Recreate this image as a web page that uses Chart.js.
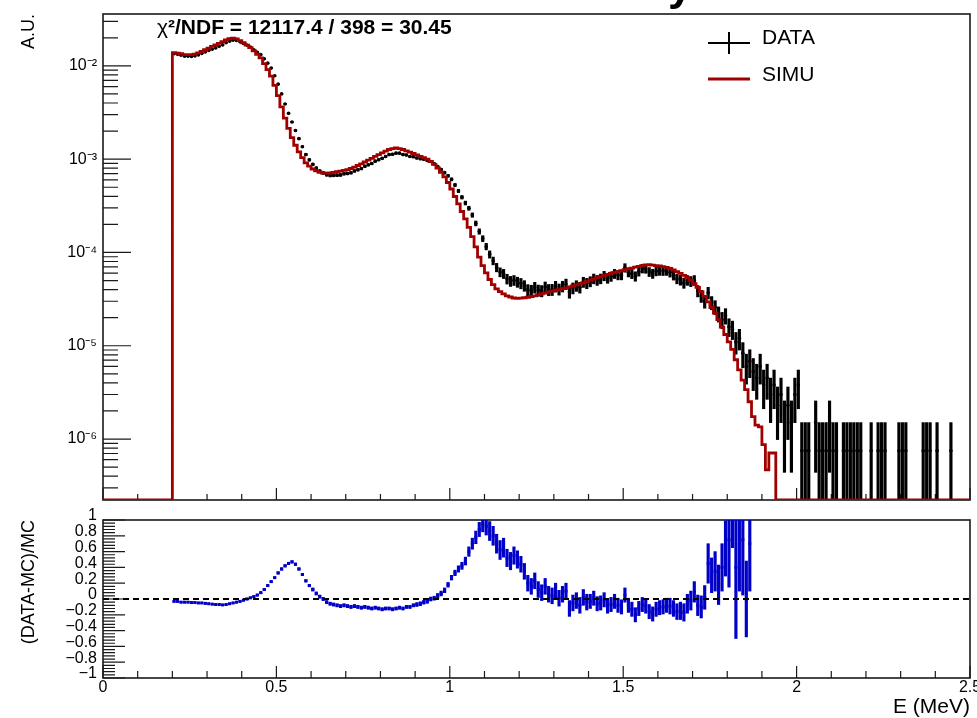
<!DOCTYPE html>
<html>
<head>
<meta charset="utf-8">
<script src="https://cdn.jsdelivr.net/npm/chart.js@4.4.1/dist/chart.umd.min.js"></script>
<style>
html, body { margin: 0; padding: 0; background: #fff; }
#wrap { position: relative; width: 977px; height: 718px; overflow: hidden; }
canvas { position: absolute; left: 0; }
#spec { top: 0; }
#ratio { top: 506px; }
</style>
</head>
<body>
<div id="wrap">
  <canvas id="spec" width="977" height="506"></canvas>
  <canvas id="ratio" width="977" height="212"></canvas>
</div>
<script>
// binning of all histograms (MeV)
const binWidth = 0.01
const firstBin = 0.20          // low edge of the first filled bin
const eventWeight = 7.5e-7     // A.U. carried by one recorded event

// DATA, A.U., one value per 0.01 MeV bin starting at 0.20 MeV
const dataValues = [
  1.35e-2, 1.33e-2, 1.30e-2, 1.27e-2, 1.27e-2, 1.26e-2, 1.28e-2, 1.31e-2, 1.36e-2, 1.41e-2,
  1.46e-2, 1.51e-2, 1.56e-2, 1.62e-2, 1.68e-2, 1.77e-2, 1.84e-2, 1.88e-2, 1.87e-2, 1.81e-2,
  1.74e-2, 1.67e-2, 1.59e-2, 1.49e-2, 1.40e-2, 1.32e-2, 1.19e-2, 1.07e-2, 9.47e-3, 7.84e-3,
  6.37e-3, 5.01e-3, 3.91e-3, 3.10e-3, 2.50e-3, 2.03e-3, 1.66e-3, 1.36e-3, 1.12e-3, 9.84e-4,
  8.79e-4, 8.03e-4, 7.46e-4, 7.11e-4, 6.80e-4, 6.68e-4, 6.71e-4, 6.74e-4, 6.78e-4, 6.98e-4,
  7.03e-4, 7.15e-4, 7.48e-4, 7.70e-4, 7.93e-4, 8.40e-4, 8.70e-4, 8.98e-4, 9.52e-4, 9.86e-4,
  1.02e-3, 1.07e-3, 1.12e-3, 1.13e-3, 1.16e-3, 1.16e-3, 1.12e-3, 1.11e-3, 1.07e-3, 1.06e-3,
  1.03e-3, 1.01e-3, 9.98e-4, 9.70e-4, 9.44e-4, 8.90e-4, 8.36e-4, 7.75e-4, 7.17e-4, 6.63e-4,
  6.08e-4, 5.29e-4, 4.57e-4, 3.91e-4, 3.39e-4, 2.98e-4, 2.52e-4, 2.05e-4, 1.68e-4, 1.41e-4,
  1.16e-4, 9.54e-5, 8.14e-5, 6.92e-5, 6.16e-5, 5.92e-5, 5.21e-5, 4.93e-5, 5.04e-5, 4.83e-5,
  4.67e-5, 4.41e-5, 3.97e-5, 3.91e-5, 4.22e-5, 3.93e-5, 3.88e-5, 4.26e-5, 3.99e-5, 4.00e-5,
  4.33e-5, 4.04e-5, 4.34e-5, 4.59e-5, 3.76e-5, 4.15e-5, 4.40e-5, 4.23e-5, 4.82e-5, 4.68e-5,
  4.89e-5, 5.24e-5, 5.05e-5, 5.24e-5, 5.62e-5, 5.30e-5, 5.54e-5, 5.92e-5, 5.74e-5, 5.74e-5,
  6.86e-5, 6.14e-5, 5.91e-5, 5.56e-5, 6.26e-5, 6.73e-5, 6.69e-5, 6.20e-5, 5.94e-5, 6.30e-5,
  6.37e-5, 6.35e-5, 6.37e-5, 6.12e-5, 5.71e-5, 5.24e-5, 5.07e-5, 4.72e-5, 5.05e-5, 4.91e-5,
  5.04e-5, 3.88e-5, 3.42e-5, 3.0e-5, 3.7e-5, 2.9e-5, 2.6e-5, 2.2e-5, 1.9e-5, 2.1e-5,
  1.6e-5, 1.5e-5, 1.1e-5, 1.2e-5, 8.3e-6, 6.0e-6, 6.8e-6, 5.3e-6, 4.5e-6, 6.0e-6,
  3.8e-6, 4.5e-6, 3.0e-6, 3.8e-6, 2.3e-6, 3.0e-6, 1.5e-6, 2.3e-6, 1.5e-6, 3.0e-6,
  3.8e-6, 7.5e-7, 7.5e-7, 7.5e-7, 0, 1.5e-6, 7.5e-7, 7.5e-7, 7.5e-7, 1.5e-6,
  7.5e-7, 7.5e-7, 0, 7.5e-7, 7.5e-7, 7.5e-7, 7.5e-7, 7.5e-7, 7.5e-7, 0,
  0, 7.5e-7, 0, 7.5e-7, 7.5e-7, 7.5e-7, 0, 0, 0, 7.5e-7,
  7.5e-7, 7.5e-7, 0, 0, 0, 0, 7.5e-7, 7.5e-7, 7.5e-7, 0,
  7.5e-7, 0, 0, 0, 7.5e-7, 0, 0, 0, 0, 0
]

// SIMU, A.U., same bins from 0.20 MeV (empty above the last value)
const simuValues = [
  1.39e-2, 1.37e-2, 1.35e-2, 1.32e-2, 1.32e-2, 1.32e-2, 1.34e-2, 1.38e-2, 1.43e-2, 1.49e-2,
  1.55e-2, 1.62e-2, 1.68e-2, 1.74e-2, 1.82e-2, 1.90e-2, 1.96e-2, 1.98e-2, 1.95e-2, 1.87e-2,
  1.77e-2, 1.67e-2, 1.57e-2, 1.45e-2, 1.33e-2, 1.22e-2, 1.06e-2, 9.12e-3, 7.76e-3, 6.17e-3,
  4.79e-3, 3.63e-3, 2.75e-3, 2.14e-3, 1.70e-3, 1.41e-3, 1.20e-3, 1.04e-3, 9.12e-4, 8.41e-4,
  7.85e-4, 7.50e-4, 7.24e-4, 7.11e-4, 7.08e-4, 7.11e-4, 7.21e-4, 7.33e-4, 7.45e-4, 7.59e-4,
  7.73e-4, 7.94e-4, 8.22e-4, 8.55e-4, 8.91e-4, 9.33e-4, 9.77e-4, 1.02e-3, 1.07e-3, 1.12e-3,
  1.17e-3, 1.22e-3, 1.27e-3, 1.30e-3, 1.32e-3, 1.30e-3, 1.27e-3, 1.23e-3, 1.19e-3, 1.15e-3,
  1.11e-3, 1.07e-3, 1.04e-3, 1.00e-3, 9.44e-4, 8.81e-4, 8.04e-4, 7.24e-4, 6.46e-4, 5.62e-4,
  4.79e-4, 3.98e-4, 3.31e-4, 2.75e-4, 2.29e-4, 1.86e-4, 1.48e-4, 1.15e-4, 8.91e-5, 7.24e-5,
  6.03e-5, 5.13e-5, 4.52e-5, 4.07e-5, 3.80e-5, 3.59e-5, 3.43e-5, 3.33e-5, 3.25e-5, 3.22e-5,
  3.24e-5, 3.27e-5, 3.31e-5, 3.37e-5, 3.43e-5, 3.51e-5, 3.59e-5, 3.67e-5, 3.76e-5, 3.85e-5,
  3.94e-5, 4.00e-5, 4.09e-5, 4.17e-5, 4.27e-5, 4.37e-5, 4.49e-5, 4.60e-5, 4.73e-5, 4.88e-5,
  5.04e-5, 5.19e-5, 5.37e-5, 5.52e-5, 5.68e-5, 5.82e-5, 5.96e-5, 6.10e-5, 6.24e-5, 6.38e-5,
  6.53e-5, 6.67e-5, 6.79e-5, 6.95e-5, 7.11e-5, 7.24e-5, 7.35e-5, 7.38e-5, 7.33e-5, 7.24e-5,
  7.16e-5, 7.05e-5, 6.92e-5, 6.73e-5, 6.49e-5, 6.24e-5, 5.96e-5, 5.69e-5, 5.37e-5, 5.01e-5,
  4.62e-5, 4.22e-5, 3.80e-5, 3.39e-5, 2.95e-5, 2.57e-5, 2.24e-5, 1.91e-5, 1.58e-5, 1.32e-5,
  1.10e-5, 9.12e-6, 7.08e-6, 5.50e-6, 4.27e-6, 3.39e-6, 2.51e-6, 1.74e-6, 1.41e-6, 1.35e-6,
  8.71e-7, 4.68e-7, 7.08e-7, 7.08e-7
]

// (DATA-MC)/MC and its error, bins from 0.20 MeV
const ratioValues = [
  -0.03, -0.03, -0.04, -0.04, -0.04, -0.045, -0.045, -0.05, -0.05, -0.055,
  -0.06, -0.065, -0.07, -0.07, -0.075, -0.07, -0.06, -0.05, -0.04, -0.03,
  -0.015, 0.0, 0.015, 0.03, 0.05, 0.08, 0.12, 0.17, 0.22, 0.27,
  0.33, 0.38, 0.42, 0.45, 0.47, 0.44, 0.38, 0.31, 0.23, 0.17,
  0.12, 0.07, 0.03, 0.0, -0.04, -0.06, -0.07, -0.08, -0.09, -0.08,
  -0.09, -0.10, -0.09, -0.10, -0.11, -0.10, -0.11, -0.12, -0.11, -0.12,
  -0.13, -0.12, -0.12, -0.13, -0.12, -0.11, -0.12, -0.10, -0.10, -0.08,
  -0.07, -0.06, -0.04, -0.03, 0.0, 0.01, 0.04, 0.07, 0.11, 0.18,
  0.27, 0.33, 0.38, 0.42, 0.48, 0.60, 0.70, 0.78, 0.88, 0.95,
  0.92, 0.86, 0.80, 0.70, 0.62, 0.65, 0.52, 0.48, 0.55, 0.50,
  0.44, 0.35, 0.20, 0.16, 0.23, 0.12, 0.08, 0.16, 0.06, 0.04,
  0.10, 0.01, 0.06, 0.10, -0.12, -0.05, -0.02, -0.08, 0.02, -0.04,
  -0.03, 0.01, -0.06, -0.05, -0.01, -0.09, -0.07, -0.03, -0.08, -0.10,
  0.05, -0.08, -0.13, -0.20, -0.12, -0.07, -0.09, -0.16, -0.19, -0.13,
  -0.11, -0.10, -0.08, -0.09, -0.12, -0.16, -0.15, -0.17, -0.06, -0.02,
  0.09, -0.08, -0.10, 0.02, 0.45, 0.30, 0.35, 0.18, 0.40, 0.64,
  0.75, 1.2, 0.4, 1.1, 0.75, 0.0, 0.7
]
const ratioErrors = [
  0.01, 0.01, 0.01, 0.01, 0.01, 0.01, 0.01, 0.01, 0.01, 0.01,
  0.01, 0.01, 0.01, 0.01, 0.01, 0.01, 0.01, 0.01, 0.01, 0.01,
  0.012, 0.012, 0.012, 0.012, 0.012, 0.012, 0.012, 0.012, 0.012, 0.012,
  0.015, 0.015, 0.015, 0.015, 0.015, 0.015, 0.015, 0.015, 0.015, 0.015,
  0.02, 0.02, 0.02, 0.02, 0.02, 0.02, 0.02, 0.02, 0.02, 0.02,
  0.02, 0.02, 0.02, 0.02, 0.02, 0.02, 0.02, 0.02, 0.02, 0.02,
  0.02, 0.02, 0.02, 0.02, 0.02, 0.02, 0.02, 0.02, 0.02, 0.02,
  0.025, 0.025, 0.025, 0.025, 0.025, 0.025, 0.03, 0.03, 0.03, 0.03,
  0.03, 0.035, 0.04, 0.045, 0.05, 0.06, 0.07, 0.08, 0.09, 0.10,
  0.11, 0.12, 0.12, 0.12, 0.12, 0.12, 0.11, 0.11, 0.11, 0.11,
  0.10, 0.10, 0.10, 0.10, 0.10, 0.10, 0.10, 0.10, 0.10, 0.10,
  0.10, 0.10, 0.10, 0.10, 0.10, 0.10, 0.10, 0.10, 0.10, 0.10,
  0.09, 0.09, 0.09, 0.09, 0.09, 0.09, 0.09, 0.09, 0.09, 0.09,
  0.09, 0.09, 0.09, 0.09, 0.09, 0.09, 0.09, 0.09, 0.09, 0.09,
  0.09, 0.09, 0.09, 0.10, 0.10, 0.10, 0.11, 0.11, 0.12, 0.12,
  0.13, 0.13, 0.14, 0.15, 0.25, 0.22, 0.25, 0.25, 0.30, 0.35,
  0.6, 0.55, 0.9, 1.0, 0.7, 0.48, 0.6
]

// axes
const energyTicks = [0, 0.5, 1, 1.5, 2, 2.5]
const energyLabels = ['0', '0.5', '1', '1.5', '2', '2.5']
const decadeTicks = [1e-6, 1e-5, 1e-4, 1e-3, 1e-2]
const decadeLabels = ['10⁻⁶', '10⁻⁵', '10⁻⁴', '10⁻³', '10⁻²']
const ratioTicks = [1, 0.8, 0.6, 0.4, 0.2, 0, -0.2, -0.4, -0.6, -0.8, -1]
const ratioLabels = ['1', '0.8', '0.6', '0.4', '0.2', '0', '−0.2', '−0.4', '−0.6', '−0.8', '−1']
const chi2Text = '²/NDF = 12117.4 / 398 = 30.45'

const FONT = '"Liberation Sans", Arial, Helvetica, sans-serif'
Chart.defaults.font.family = FONT
Chart.defaults.color = '#000'

const eMin = 0, eMax = 2.5
const yMin = 2.22e-7, yMax = 0.036
const RED = '#a00000'
const BLUE = '#0000c8'

const centre = i => +(firstBin + (i + 0.5) * binWidth).toFixed(3)

// ---- build tables for the library ----
const dataPoints = []
const dataBars = []
dataValues.forEach((v, i) => {
  if (v <= 0) return
  const e = Math.sqrt(v * eventWeight)
  dataPoints.push({ x: centre(i), y: v })
  dataBars.push({ x: centre(i), y: [Math.max(v - e, yMin * 0.5), v + e] })
})

const offsetBins = Math.round(firstBin / binWidth)
const nBins = Math.round((eMax - eMin) / binWidth)
const simuLine = []
for (let b = 0; b < nBins; b++) {
  const k = b - offsetBins
  const v = k >= 0 && k < simuValues.length ? simuValues[k] : 0
  simuLine.push({ x: +((b + 0.5) * binWidth).toFixed(3), y: v > 0 ? v : yMin })
}
simuLine.unshift({ x: eMin, y: simuLine[0].y })
simuLine.push({ x: eMax, y: simuLine[simuLine.length - 1].y })

const ratioPoints = ratioValues.map((r, i) => ({ x: centre(i), y: r }))
const ratioBars = ratioValues.map((r, i) => ({ x: centre(i), y: [r - ratioErrors[i], r + ratioErrors[i]] }))

// ---- tick helpers ----
function energyTickList(scale) {
  const t = []
  for (let k = 0; k <= 25; k++) t.push({ value: +(k * 0.1).toFixed(2) })
  scale.ticks = t
}
function energyLabel(v) {
  const i = energyTicks.findIndex(t => Math.abs(t - v) < 1e-6)
  return i >= 0 ? energyLabels[i] : ''
}
function logTickList(scale) {
  const t = []
  for (let d = -7; d <= -1; d++) {
    for (let k = 1; k <= 9; k++) {
      const v = k * Math.pow(10, d)
      if (v >= yMin && v <= yMax) t.push({ value: v })
    }
  }
  scale.ticks = t
}
function logLabel(v) {
  const i = decadeTicks.findIndex(t => Math.abs(Math.log10(t) - Math.log10(v)) < 1e-6)
  return i >= 0 ? decadeLabels[i] : ''
}
function ratioTickList(scale) {
  const t = []
  for (let k = -25; k <= 25; k++) t.push({ value: +(k * 0.04).toFixed(2) })
  scale.ticks = t
}
function ratioLabel(v) {
  const i = ratioTicks.findIndex(t => Math.abs(t - v) < 1e-6)
  return i >= 0 ? ratioLabels[i] : ''
}

// ROOT-like frame with inward ticks
const frameTicks = {
  id: 'frameTicks',
  beforeDatasetsDraw(chart, args, opts) {
    const { ctx, chartArea: a, scales } = chart
    ctx.save()
    ctx.strokeStyle = '#1a1a1a'
    ctx.lineWidth = 1.2
    ctx.beginPath()
    scales.x.ticks.forEach(t => {
      const px = scales.x.getPixelForValue(t.value)
      const len = energyLabel(t.value) !== '' ? opts.xMajor : opts.xMinor
      ctx.moveTo(px, a.bottom)
      ctx.lineTo(px, a.bottom - len)
    })
    scales.y.ticks.forEach(t => {
      const py = scales.y.getPixelForValue(t.value)
      const len = t.label !== '' ? opts.yMajor : opts.yMinor
      ctx.moveTo(a.left, py)
      ctx.lineTo(a.left + len, py)
    })
    ctx.stroke()
    ctx.lineWidth = 1.6
    ctx.strokeRect(a.left, a.top, a.right - a.left, a.bottom - a.top)
    ctx.restore()
  }
}

// chi2 text, legend and the cut title
const topNotes = {
  id: 'topNotes',
  afterDraw(chart) {
    const ctx = chart.ctx
    ctx.save()
    ctx.fillStyle = '#000'
    ctx.textBaseline = 'alphabetic'
    ctx.font = '21px ' + FONT
    ctx.fillText('χ', 157, 34)
    const w = ctx.measureText('χ').width
    ctx.font = 'bold 21px ' + FONT
    ctx.fillText(chi2Text, 157 + w, 34)

    ctx.font = 'bold 44px ' + FONT
    ctx.fillText('y', 668, 0)

    ctx.strokeStyle = '#000'
    ctx.lineWidth = 2
    ctx.beginPath()
    ctx.moveTo(708, 43); ctx.lineTo(750, 43)
    ctx.moveTo(729, 32); ctx.lineTo(729, 54)
    ctx.stroke()
    ctx.strokeStyle = RED
    ctx.lineWidth = 3
    ctx.beginPath()
    ctx.moveTo(708, 79); ctx.lineTo(750, 79)
    ctx.stroke()
    ctx.font = '21px ' + FONT
    ctx.textBaseline = 'middle'
    ctx.fillText('DATA', 762, 38.5)
    ctx.fillText('SIMU', 762, 75)
    ctx.restore()
  }
}

new Chart(document.getElementById('spec'), {
  type: 'scatter',
  data: {
    datasets: [
      { type: 'line', label: 'SIMU', data: simuLine, stepped: 'middle', borderColor: RED, borderWidth: 2.8,
        pointRadius: 0, fill: false, order: 0 },
      { type: 'scatter', label: 'DATA', data: dataPoints, pointStyle: 'circle', pointRadius: 1.8,
        backgroundColor: '#000', borderWidth: 0, order: 1 },
      { type: 'bar', label: 'DATA err', data: dataBars, backgroundColor: '#000', barThickness: 2.5,
        grouped: false, order: 2 }
    ]
  },
  options: {
    responsive: false,
    animation: false,
    devicePixelRatio: 1,
    events: [],
    layout: { padding: { top: 14, right: 7, bottom: 6, left: 0 } },
    plugins: {
      legend: { display: false },
      tooltip: { enabled: false },
      frameTicks: { xMajor: 12, xMinor: 6, yMajor: 28, yMinor: 15 }
    },
    scales: {
      x: {
        type: 'linear', min: eMin, max: eMax, offset: false,
        grid: { display: false, drawTicks: false, offset: false },
        border: { display: false },
        ticks: { display: false, callback: energyLabel },
        afterBuildTicks: energyTickList,
        afterFit: s => { s.height = 0; s.paddingLeft = 0; s.paddingRight = 0 }
      },
      y: {
        type: 'logarithmic', min: yMin, max: yMax,
        grid: { display: false, drawTicks: false },
        border: { display: false },
        ticks: { callback: logLabel, autoSkip: false, padding: 6, font: { size: 16 } },
        title: { display: true, text: 'A.U.', align: 'end', font: { size: 18, lineHeight: 1 },
          padding: { top: 20, bottom: 0 } },
        afterBuildTicks: logTickList,
        afterFit: s => { s.width = 103; s.paddingTop = 0; s.paddingBottom = 0 }
      }
    }
  },
  plugins: [frameTicks, topNotes]
})

new Chart(document.getElementById('ratio'), {
  type: 'scatter',
  data: {
    datasets: [
      { type: 'line', label: 'zero', data: [{ x: eMin, y: 0 }, { x: eMax, y: 0 }], borderColor: '#000',
        borderWidth: 2.2, borderDash: [6, 4], pointRadius: 0, fill: false, order: 0 },
      { type: 'scatter', label: 'ratio', data: ratioPoints, pointStyle: 'rect', pointRadius: 2.1,
        backgroundColor: BLUE, borderWidth: 0, order: 1 },
      { type: 'bar', label: 'ratio err', data: ratioBars, backgroundColor: BLUE, barThickness: 2.5,
        grouped: false, order: 2 }
    ]
  },
  options: {
    responsive: false,
    animation: false,
    devicePixelRatio: 1,
    events: [],
    layout: { padding: { top: 14, right: 7, bottom: 0, left: 0 } },
    plugins: {
      legend: { display: false },
      tooltip: { enabled: false },
      frameTicks: { xMajor: 12, xMinor: 7, yMajor: 22, yMinor: 12 }
    },
    scales: {
      x: {
        type: 'linear', min: eMin, max: eMax, offset: false,
        grid: { display: false, drawTicks: false, offset: false },
        border: { display: false },
        ticks: { callback: energyLabel, autoSkip: false, maxRotation: 0, padding: 0, font: { size: 16 } },
        title: { display: true, text: 'E (MeV)', align: 'end', font: { size: 21, lineHeight: 1 },
          padding: { top: 0, bottom: 0 } },
        afterBuildTicks: energyTickList,
        afterFit: s => { s.height = 40; s.paddingLeft = 0; s.paddingRight = 0 }
      },
      y: {
        type: 'linear', min: -1, max: 1,
        grid: { display: false, drawTicks: false },
        border: { display: false },
        ticks: { callback: ratioLabel, autoSkip: false, padding: 6, labelOffset: -4, font: { size: 16 } },
        title: { display: true, text: '(DATA-MC)/MC', align: 'end', font: { size: 18, lineHeight: 1 },
          padding: { top: 20, bottom: 0 } },
        afterBuildTicks: ratioTickList,
        afterFit: s => { s.width = 103; s.paddingTop = 0; s.paddingBottom = 0 }
      }
    }
  },
  plugins: [frameTicks]
})
</script>
</body>
</html>
